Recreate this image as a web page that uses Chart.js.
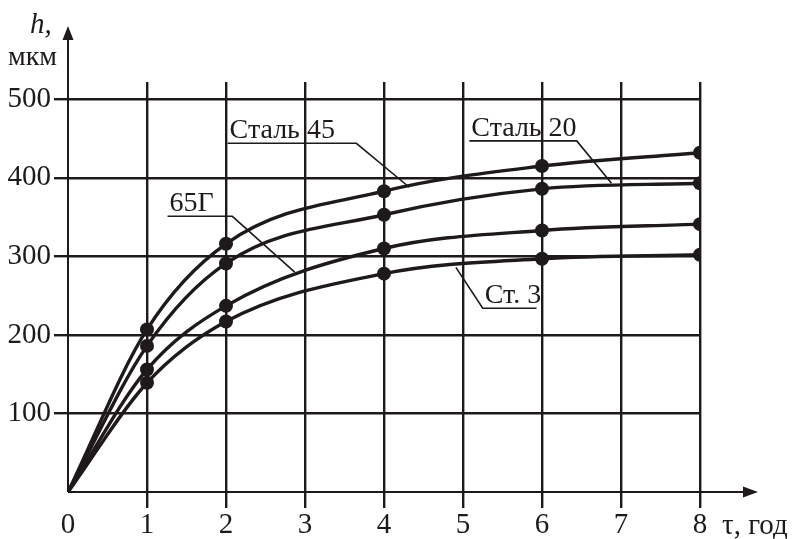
<!DOCTYPE html>
<html>
<head>
<meta charset="utf-8">
<script src="https://cdn.jsdelivr.net/npm/chart.js@4/dist/chart.umd.min.js"></script>
<style>
  html, body { margin: 0; padding: 0; background: #fff; }
  #wrap { width: 799px; height: 539px; }
</style>
</head>
<body>
<div id="wrap"><canvas id="c" width="799" height="539"></canvas></div>
<script>
// Oxide layer thickness h (мкм) versus exposure time τ (years)
const years   = [0, 1, 2, 4, 6, 8];
const steel45 = [0, 207, 316, 383, 415, 432];
const steel20 = [0, 186, 291, 353, 386, 393];
const steel65G = [0, 156, 237, 310, 333, 341];
const steelSt3 = [0, 139, 217, 278, 297, 302];

const seriesNames  = ['Сталь 45', 'Сталь 20', '65Г', 'Ст. 3'];
const seriesValues = [steel45, steel20, steel65G, steelSt3];

const xTickValues = [0, 1, 2, 3, 4, 5, 6, 7, 8];
const yTickValues = [0, 100, 200, 300, 400, 500];

const yAxisTitle = ['h,', 'мкм'];
const xAxisTitle = 'τ, год';

// Callout labels, in axis units: underline from x0 to x1 at height y,
// leader from one end of the underline to the curve.
const callouts = [
  { name: 'Сталь 45', x0: 2.02, x1: 3.65, y: 444, tipX: 4.32, tipY: 388, end: 'right' },
  { name: 'Сталь 20', x0: 5.08, x1: 6.44, y: 447, tipX: 6.88, tipY: 393, end: 'right' },
  { name: '65Г',      x0: 1.26, x1: 2.08, y: 351, tipX: 2.87, tipY: 280, end: 'right' },
  { name: 'Ст. 3',    x0: 5.25, x1: 5.93, y: 234, tipX: 4.91, tipY: 286, end: 'left' }
];

const INK = '#1e191a';
const SERIF = '"Liberation Serif", "DejaVu Serif", serif';

const datasets = seriesNames.map((name, i) => ({
  label: name,
  data: years.map((t, k) => ({ x: t, y: seriesValues[i][k] })),
  borderColor: INK,
  backgroundColor: INK,
  borderWidth: 3.4,
  cubicInterpolationMode: 'monotone',
  pointRadius: years.map(t => (t === 0 ? 0 : 7)),
  pointHoverRadius: 7,
  pointBorderWidth: 0,
  fill: false
}));

const hideZero = ctx => (ctx.tick && ctx.tick.value === 0 ? 'rgba(0,0,0,0)' : INK);

const axesAndNotes = {
  id: 'axesAndNotes',
  afterDraw(chart) {
    const { ctx } = chart;
    const xs = chart.scales.x, ys = chart.scales.y;
    const ox = xs.getPixelForValue(0), oy = ys.getPixelForValue(0);
    ctx.save();
    ctx.strokeStyle = INK;
    ctx.fillStyle = INK;
    ctx.lineCap = 'butt';

    // axes with arrow heads
    ctx.lineWidth = 2;
    ctx.beginPath();
    ctx.moveTo(ox, oy);
    ctx.lineTo(ox, 36);
    ctx.moveTo(ox, oy);
    ctx.lineTo(744, oy);
    ctx.stroke();
    ctx.beginPath();
    ctx.moveTo(ox, 26); ctx.lineTo(ox - 5.5, 40); ctx.lineTo(ox + 5.5, 40); ctx.closePath();
    ctx.fill();
    ctx.beginPath();
    ctx.moveTo(758, oy); ctx.lineTo(743, oy - 5.5); ctx.lineTo(743, oy + 5.5); ctx.closePath();
    ctx.fill();

    // axis titles
    ctx.textBaseline = 'alphabetic';
    ctx.textAlign = 'left';
    ctx.font = 'italic 29px ' + SERIF;
    ctx.fillText(yAxisTitle[0], 30, 33);
    ctx.font = '28px ' + SERIF;
    ctx.fillText(yAxisTitle[1], 8, 65);
    ctx.font = '29px ' + SERIF;
    ctx.fillText(xAxisTitle, xs.getPixelForValue(8) + 22, 534);

    // callouts
    ctx.lineWidth = 1.6;
    ctx.font = '28px ' + SERIF;
    callouts.forEach(c => {
      const a = xs.getPixelForValue(c.x0), b = xs.getPixelForValue(c.x1);
      const y = ys.getPixelForValue(c.y);
      const tx = xs.getPixelForValue(c.tipX), ty = ys.getPixelForValue(c.tipY);
      ctx.beginPath();
      if (c.end === 'right') {
        ctx.moveTo(a, y); ctx.lineTo(b, y); ctx.lineTo(tx, ty);
      } else {
        ctx.moveTo(b, y); ctx.lineTo(a, y); ctx.lineTo(tx, ty);
      }
      ctx.stroke();
      ctx.fillText(c.name, a + 2, y - 5);
    });
    ctx.restore();
  }
};

new Chart(document.getElementById('c'), {
  type: 'line',
  data: { datasets },
  options: {
    responsive: false,
    animation: false,
    events: [],
    layout: { padding: { top: 82, right: 99, left: 0, bottom: 0 } },
    plugins: { legend: { display: false }, tooltip: { enabled: false } },
    scales: {
      x: {
        type: 'linear',
        min: 0, max: 8,
        afterBuildTicks: s => { s.ticks = xTickValues.map(v => ({ value: v })); },
        afterFit: s => { s.height = 47; },
        border: { display: false },
        grid: { color: hideZero, lineWidth: 2.4, tickLength: 16, drawTicks: true },
        ticks: { color: INK, font: { family: SERIF, size: 29 }, padding: 0, maxRotation: 0 }
      },
      y: {
        type: 'linear',
        min: 0, max: 522,
        afterBuildTicks: s => { s.ticks = yTickValues.map(v => ({ value: v })); },
        afterFit: s => { s.width = 68; },
        border: { display: false },
        grid: { color: hideZero, lineWidth: 2.4, tickLength: 14, drawTicks: true },
        ticks: {
          color: INK, font: { family: SERIF, size: 29 }, padding: 3,
          callback: v => (v === 0 ? '' : String(v))
        }
      }
    }
  },
  plugins: [axesAndNotes]
});
</script>
</body>
</html>
